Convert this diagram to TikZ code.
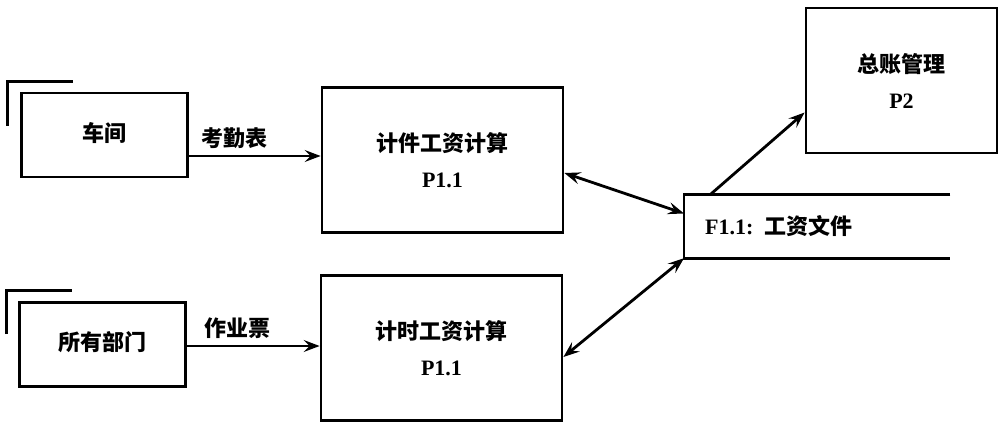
\documentclass[tikz,border=0pt]{standalone}
\usepackage{fontspec}
\setmainfont{Liberation Serif}
\newfontfamily\cjk{Noto Sans CJK SC}
\usetikzlibrary{positioning,calc,arrows.meta}

\begin{document}
\begin{tikzpicture}[
    x=1pt, y=-1pt,
    box/.style={draw, line width=2.8pt, align=center, inner sep=0pt, font=\fontsize{22}{36}\selectfont\bfseries},
    entity/.style={box, minimum width=166pt, minimum height=84pt},
    proc/.style={box, minimum width=241pt, minimum height=145pt},
    arrow/.style={-{Stealth[length=16pt,width=12pt,inset=6pt]}, line width=2.8pt},
    biarrow/.style={{Stealth[length=16pt,width=12pt,inset=6pt]}-{Stealth[length=16pt,width=12pt,inset=6pt]}, line width=2.8pt},
    lbl/.style={font=\fontsize{22}{26}\selectfont\bfseries\cjk}
]

% Canvas
\fill[white] (0,0) rectangle (1001,425);
\useasboundingbox (0,0) rectangle (1001,425);

% External entities
\node[entity] (ws) at (104.5,135) {\raisebox{7pt}{\cjk 车间}};
\node[entity] (dept) at (102.5,344.5) {\raisebox{8pt}{\cjk 所有部门}};

% Entity corner marks
\draw[line width=2.8pt] (ws.north west) ++(-13,34) -- ++(0,-44) -- ++(66,0);
\draw[line width=2.8pt] (dept.north west) ++(-12,33) -- ++(0,-44) -- ++(66,0);

% Processes
\node[proc] (calcA) at (442.5,160) {{\cjk 计件工资计算}\\P1.1};
\node[proc] (calcB) at (441.5,348) {{\cjk 计时工资计算}\\P1.1};
\node[box, minimum width=191pt, minimum height=145pt] (ledger) at (901.5,80.5) {{\cjk 总账管理}\\P2};

% Data store
\node[minimum width=266pt, minimum height=63pt, anchor=west] (store) at (684,226.5) {};
\draw[line width=2.8pt] (store.north east) -- (store.north west) -- (store.south west) -- (store.south east);
\node[anchor=west, inner sep=0pt, font=\fontsize{22}{26}\selectfont\bfseries] (storetxt) at ([xshift=21pt]store.west) {F1.1:~~{\cjk 工资文件}};

% Input flows
\coordinate (a1) at ([yshift=-21pt]ws.east);
\draw[arrow] (a1) -- (a1 -| calcA.west) node[lbl, pos=0.35, above=3pt] {考勤表};
\coordinate (a2) at ([yshift=-1.5pt]dept.east);
\draw[arrow] (a2) -- (a2 -| calcB.west) node[lbl, pos=0.38, above=3pt] {作业票};

% Store flows
\draw[biarrow] ([yshift=-13pt]calcA.east) -- ([yshift=13pt]store.west);
\draw[biarrow] ([yshift=-9pt]calcB.east) -- (store.south west);
\draw[arrow] ([xshift=26pt]store.north west) -- ([yshift=-32pt]ledger.west);

\end{tikzpicture}
\end{document}
